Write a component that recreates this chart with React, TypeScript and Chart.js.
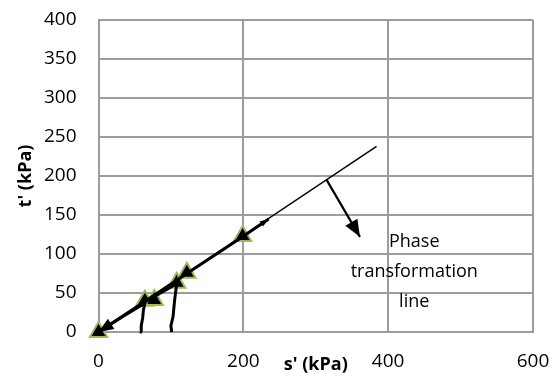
import React, { useEffect, useRef } from 'react';
import { Chart, registerables } from 'chart.js';

Chart.register(...registerables);

// Axis ticks
const xMin = 0;
const xMax = 600;
const xStep = 200;
const yMin = 0;
const yMax = 400;
const yStep = 50;

// Triangle markers (s', t')
const markerS = [0, 64, 77, 108, 122, 199];
const markerT = [0, 40, 41, 63, 76, 123];

// Stress path A
const pathAS = [60, 59, 61, 62, 64, 32, 0];
const pathAT = [0, 8, 18, 28, 37, 19, 0];

// Stress path B
const pathBS = [101, 100, 103, 105, 108, 54, 0];
const pathBT = [0, 8, 20, 40, 62, 33, 0];

// Stress path C (upward part)
const pathCS = [64, 122, 199, 235];
const pathCT = [39, 75, 122, 145];

// Phase transformation line
const phaseS = [0, 384];
const phaseT = [0, 238];

// Arrow pointing to the phase transformation line label
const arrowS = [315, 361];
const arrowT = [195, 122];

// Annotation
const labelLines = ['Phase', 'transformation', 'line'];
const labelS = 436;
const labelT = 116;

const xTitle = "s' (kPa)";
const yTitle = "t' (kPa)";

const toPts = (xs: number[], ys: number[]) => xs.map((x, i) => ({ x, y: ys[i] }));

const GRID = '#9c9c9c';
const FONT = '"Open Sans", "Liberation Sans", sans-serif';

const arrowPlugin = {
  id: 'arrows',
  afterDatasetsDraw(chart: any) {
    const ctx = chart.ctx;
    chart.data.datasets.forEach((ds: any, i: number) => {
      if (!ds.arrowLen) return;
      const pts = chart.getDatasetMeta(i).data;
      if (pts.length < 2) return;
      const a = pts[pts.length - 2];
      const b = pts[pts.length - 1];
      const ang = Math.atan2(b.y - a.y, b.x - a.x);
      ctx.save();
      ctx.translate(b.x, b.y);
      ctx.rotate(ang);
      ctx.fillStyle = '#000';
      ctx.beginPath();
      ctx.moveTo(0, 0);
      ctx.lineTo(-ds.arrowLen, ds.arrowWidth / 2);
      ctx.lineTo(-ds.arrowLen, -ds.arrowWidth / 2);
      ctx.closePath();
      ctx.fill();
      ctx.restore();
    });
  },
};

const textPlugin = {
  id: 'texts',
  afterDraw(chart: any) {
    const ctx = chart.ctx;
    const { chartArea } = chart;
    const xs = chart.scales.x;
    const ys = chart.scales.y;
    ctx.save();
    ctx.fillStyle = '#000';
    ctx.textAlign = 'center';
    ctx.textBaseline = 'middle';
    ctx.font = `18px ${FONT}`;
    const lx = xs.getPixelForValue(labelS);
    const ly = ys.getPixelForValue(labelT);
    labelLines.forEach((t, i) => ctx.fillText(t, lx, ly + i * 30));

    ctx.font = `bold 18px ${FONT}`;
    ctx.fillText(xTitle, (chartArea.left + chartArea.right) / 2, chartArea.bottom + 33);
    ctx.translate(18, (chartArea.top + chartArea.bottom) / 2);
    ctx.rotate(-Math.PI / 2);
    ctx.fillText(yTitle, 0, 0);
    ctx.restore();
  },
};

export default function App() {
  const ref = useRef<HTMLCanvasElement>(null);
  useEffect(() => {
    if (!ref.current) return;
    const lineDs = (label: string, xs: number[], ys: number[], w: number, extra: any = {}) => ({
      label,
      data: toPts(xs, ys),
      showLine: true,
      borderColor: '#000',
      backgroundColor: '#000',
      borderWidth: w,
      pointRadius: 0,
      tension: 0,
      clip: false,
      ...extra,
    });
    const chart = new Chart(ref.current, {
      type: 'scatter',
      data: {
        datasets: [
          lineDs('Path A', pathAS, pathAT, 3, { arrowLen: 15, arrowWidth: 12 }),
          lineDs('Path B', pathBS, pathBT, 3),
          lineDs('Path C', pathCS, pathCT, 3, { arrowLen: 9, arrowWidth: 6 }),
          lineDs('Phase line', phaseS, phaseT, 1.5),
          lineDs('Arrow', arrowS, arrowT, 2.2, { arrowLen: 17, arrowWidth: 14 }),
          {
            label: 'Points',
            data: toPts(markerS, markerT),
            showLine: false,
            pointStyle: 'triangle',
            pointRadius: 10,
            pointBackgroundColor: '#000',
            pointBorderColor: '#9BBB59',
            pointBorderWidth: 2,
            clip: false,
          } as any,
        ] as any,
      },
      options: {
        animation: false,
        responsive: false,
        events: [],
        layout: { padding: { top: 10, right: 19, left: 0, bottom: 0 } },
        plugins: { legend: { display: false }, tooltip: { enabled: false } },
        scales: {
          x: {
            type: 'linear',
            min: xMin,
            max: xMax,
            ticks: { stepSize: xStep, color: '#000', font: { family: FONT, size: 19, lineHeight: 1 }, padding: 20, maxRotation: 0 },
            grid: { color: GRID, lineWidth: 2, drawTicks: false },
            border: { display: true, color: GRID, width: 2 },
            afterFit: (s: any) => { s.height = 45; s.paddingLeft = 0; s.paddingRight = 0; },
          },
          y: {
            type: 'linear',
            min: yMin,
            max: yMax,
            ticks: { stepSize: yStep, color: '#000', font: { family: FONT, size: 19, lineHeight: 1 }, padding: 22 },
            grid: { color: GRID, lineWidth: 2, drawTicks: false },
            border: { display: true, color: GRID, width: 2 },
            afterFit: (s: any) => { s.width = 90.5; s.paddingTop = 0; s.paddingBottom = 0; },
          },
        },
      } as any,
      plugins: [arrowPlugin, textPlugin],
    });
    return () => chart.destroy();
  }, []);
  return (
    <div style={{ width: 544, height: 369 }}>
      <canvas ref={ref} width={544} height={369} style={{ display: 'block' }} />
    </div>
  );
}
